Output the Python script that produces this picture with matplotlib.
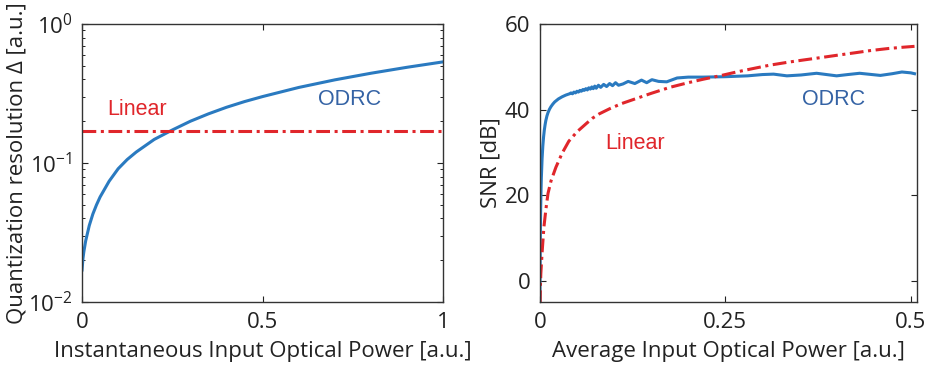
import numpy as np
import matplotlib.pyplot as plt
from matplotlib.ticker import FixedLocator, LogLocator, NullFormatter

plt.rcParams['font.family'] = ['Open Sans', 'DejaVu Sans']
plt.rcParams['mathtext.fontset'] = 'custom'
plt.rcParams['mathtext.rm'] = 'Open Sans'

# left panel: quantization resolution vs instantaneous power
inst_x = [0.0, 0.0025, 0.005, 0.01, 0.02, 0.03, 0.04, 0.05, 0.075, 0.1,
          0.125, 0.15, 0.2, 0.25, 0.3, 0.35, 0.4, 0.45, 0.5, 0.6, 0.7,
          0.8, 0.9, 1.0]
odrc_delta = [0.017, 0.0205, 0.023, 0.0275, 0.0355, 0.043, 0.050, 0.057,
              0.074, 0.091, 0.106, 0.120, 0.148, 0.173, 0.200, 0.226, 0.252,
              0.277, 0.301, 0.350, 0.397, 0.443, 0.489, 0.535]
linear_delta = [0.171, 0.171]
linear_delta_x = [0.0, 1.0]

# right panel: SNR vs average power
odrc_avg_x = [0.0, 0.0003, 0.0006, 0.001, 0.0015, 0.002, 0.003, 0.004, 0.005,
              0.006, 0.007, 0.008, 0.0095, 0.011, 0.013, 0.015, 0.0175, 0.02,
              0.025, 0.03, 0.035, 0.04,
              0.042, 0.044, 0.046, 0.048, 0.050, 0.052, 0.054, 0.056, 0.058,
              0.060, 0.062, 0.064, 0.066, 0.068, 0.070, 0.072, 0.074, 0.076,
              0.079, 0.082, 0.086, 0.090, 0.094, 0.098,
              0.102, 0.106, 0.112, 0.119, 0.128, 0.137, 0.144, 0.151, 0.160,
              0.171, 0.185, 0.20, 0.22, 0.25, 0.28, 0.30, 0.315, 0.333, 0.352,
              0.373, 0.40, 0.415, 0.431, 0.459, 0.475, 0.488, 0.50, 0.505]
odrc_snr = [-5.5, 3.0, 10.0, 16.0, 20.5, 24.0, 28.5, 31.5, 33.6,
            35.2, 36.4, 37.4, 38.5, 39.3, 40.1, 40.7, 41.3, 41.8,
            42.5, 43.0, 43.4, 43.7,
            43.9, 43.7, 44.1, 43.9, 44.3, 44.1, 44.5, 44.3, 44.7,
            44.5, 44.9, 44.6, 45.1, 44.8, 45.3, 44.9, 45.5, 45.0,
            45.7, 45.2, 45.9, 45.4, 46.1, 45.6,
            46.3, 45.7, 46.0, 46.6, 46.1, 46.9, 46.3, 47.0, 46.6,
            46.5, 47.4, 47.6, 47.6, 47.7, 47.9, 48.2, 48.3, 47.9, 48.1,
            48.5, 47.9, 48.2, 48.5, 48.0, 48.4, 48.8, 48.6, 48.4]

linear_avg_x = [0.0003, 0.0008, 0.0013, 0.003, 0.0054, 0.008, 0.011, 0.015,
                0.0216, 0.03, 0.039, 0.05, 0.063, 0.071, 0.08, 0.094, 0.11,
                0.13, 0.15, 0.175, 0.2, 0.22, 0.245, 0.265, 0.29, 0.31, 0.335,
                0.355, 0.38, 0.40, 0.425, 0.445, 0.47, 0.49, 0.505]
linear_snr = [-5.5, -1.0, 1.6, 6.5, 12.4, 16.5, 20.4, 23.3,
              26.5, 29.8, 32.6, 34.8, 36.8, 38.0, 39.0, 40.2, 41.4,
              42.6, 43.8, 45.2, 46.3, 47.1, 48.0, 48.8, 49.7, 50.4, 51.1,
              51.6, 52.2, 52.7, 53.3, 53.8, 54.3, 54.6, 54.8]

blue = '#2a7ac0'
red = '#e0262b'
text_blue = '#3563a5'
dashdot = (0, (4.5, 1.5, 1.0, 1.5))

fig = plt.figure(figsize=(9.26, 3.75), dpi=100)
ax1 = fig.add_axes([0.0886, 0.1947, 0.390, 0.741])
ax2 = fig.add_axes([0.583, 0.1947, 0.407, 0.741])

for ax in (ax1, ax2):
    ax.tick_params(direction='in', top=True, right=True, labelsize=16,
                   colors='#222222', length=4, width=0.8, pad=7)
    ax.tick_params(which='minor', direction='in', top=True, right=True,
                   length=2, width=0.6)
    for s in ax.spines.values():
        s.set_color('#333333')
        s.set_linewidth(1.0)

# left
ax1.plot(inst_x, odrc_delta, color=blue, lw=2.2)
ax1.plot(linear_delta_x, linear_delta, color=red, lw=2.2, linestyle=dashdot)
ax1.set_yscale('log')
ax1.set_xlim(0, 1)
ax1.set_ylim(1e-2, 1)
ax1.xaxis.set_major_locator(FixedLocator([0, 0.5, 1]))
ax1.set_xticklabels(['0', '0.5', '1'])
ax1.yaxis.set_minor_locator(LogLocator(base=10, subs=np.arange(2, 10)))
ax1.yaxis.set_minor_formatter(NullFormatter())
ax1.set_xlabel('Instantaneous Input Optical Power [a.u.]', fontsize=16,
               color='#222222', labelpad=6)
ax1.set_ylabel('Quantization resolution Δ [a.u.]', fontsize=16,
               color='#222222', labelpad=0)
ax1.text(0.152, 0.244, 'Linear', color=red, fontsize=15.5,
         family=['Liberation Sans'], ha='center', va='center')
ax1.text(0.742, 0.288, 'ODRC', color=text_blue, fontsize=15.5,
         family=['Liberation Sans'], ha='center', va='center')

# right
ax2.plot(odrc_avg_x, odrc_snr, color=blue, lw=2.2)
ax2.plot(linear_avg_x, linear_snr, color=red, lw=2.2, linestyle=dashdot)
ax2.set_xlim(0, 0.508)
ax2.set_ylim(-5, 60)
ax2.set_xticks([0, 0.25, 0.5])
ax2.set_xticklabels(['0', '0.25', '0.5'])
ax2.set_yticks([0, 20, 40, 60])
ax2.set_xlabel('Average Input Optical Power [a.u.]', fontsize=16,
               color='#222222', labelpad=6)
ax2.set_ylabel('SNR [dB]', fontsize=16, color='#222222', labelpad=2)
ax2.text(0.129, 32, 'Linear', color=red, fontsize=15.5,
         family=['Liberation Sans'], ha='center', va='center')
ax2.text(0.396, 42.3, 'ODRC', color=text_blue, fontsize=15.5,
         family=['Liberation Sans'], ha='center', va='center')

fig.savefig('out.png', dpi=100)
